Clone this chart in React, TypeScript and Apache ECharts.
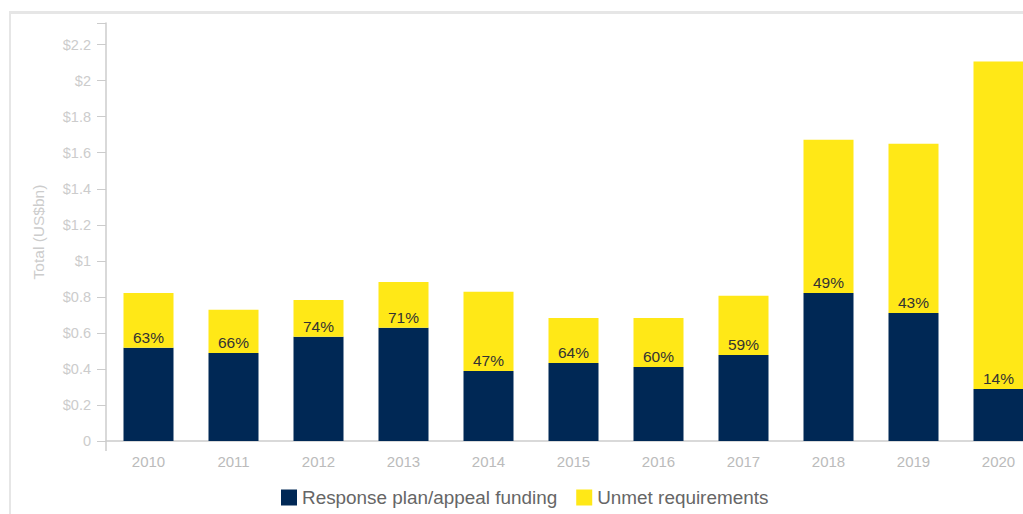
import React, { useEffect, useRef } from "react";
import * as echarts from "echarts";

const years = ["2010", "2011", "2012", "2013", "2014", "2015", "2016", "2017", "2018", "2019", "2020"];
const funded = [0.517, 0.489, 0.578, 0.628, 0.389, 0.433, 0.411, 0.478, 0.822, 0.711, 0.289];
const unmet = [0.305, 0.239, 0.205, 0.255, 0.439, 0.25, 0.272, 0.328, 0.85, 0.939, 1.817];
const fundedPct = [63, 66, 74, 71, 47, 64, 60, 59, 49, 43, 14];

export default function App() {
  const ref = useRef<HTMLDivElement>(null);
  useEffect(() => {
    if (!ref.current) return;
    const chart = echarts.init(ref.current, null, { renderer: "svg" });
    const font = "'Liberation Sans', Arial, sans-serif";
    chart.setOption({
      animation: false,
      textStyle: { fontFamily: font },
      grid: { left: 106, right: 0, top: 23, bottom: 73 },
      legend: {
        left: 276,
        bottom: 2,
        itemWidth: 16,
        itemHeight: 16,
        itemGap: 19,
        icon: "rect",
        textStyle: { fontSize: 18.9, color: "#666", fontFamily: font },
        data: ["Response plan/appeal funding", "Unmet requirements"],
      },
      xAxis: {
        type: "category",
        data: years,
        axisLine: { lineStyle: { color: "#ccc", width: 1.5 } },
        axisTick: { alignWithLabel: true, length: 8, lineStyle: { color: "#ccc" } },
        axisLabel: { color: "#bbb", fontSize: 15, margin: 13, fontFamily: font },
      },
      yAxis: {
        type: "value",
        min: 0,
        max: 2.32,
        interval: 0.2,
        name: "Total (US$bn)",
        nameLocation: "middle",
        nameGap: 60,
        nameTextStyle: { color: "#ccc", fontSize: 15.5, fontFamily: font },
        axisLine: { show: true, lineStyle: { color: "#ccc", width: 1.5 } },
        axisTick: { show: true, length: 9, lineStyle: { color: "#ccc" } },
        splitLine: { show: false },
        axisLabel: {
          color: "#ccc",
          fontSize: 14.5,
          margin: 15,
          fontFamily: font,
          formatter: (v: number) => {
            const r = Math.round(v * 10) / 10;
            if (Math.abs(v - r) > 1e-6 || Math.round(r * 10) % 2 !== 0) return "";
            if (r === 0) return "0";
            return "$" + String(r);
          },
        },
      },
      graphic: [
        { type: "rect", shape: { x: 10, y: 11, width: 1040, height: 3 }, style: { fill: "#e6e6e6" }, silent: true },
        { type: "rect", shape: { x: 9, y: 11, width: 2, height: 503 }, style: { fill: "#e6e6e6" }, silent: true },
        { type: "line", shape: { x1: 106, y1: 441, x2: 106, y2: 451 }, style: { stroke: "#ccc", lineWidth: 1.5 }, silent: true },
      ],
      series: [
        {
          name: "Response plan/appeal funding",
          type: "bar",
          stack: "total",
          barWidth: 50,
          data: funded,
          itemStyle: { color: "#002855" },
          label: {
            show: true,
            position: "top",
            distance: 2,
            fontSize: 15.5,
            color: "#333",
            fontFamily: font,
            formatter: (p: any) => fundedPct[p.dataIndex] + "%",
          },
        },
        {
          name: "Unmet requirements",
          type: "bar",
          stack: "total",
          barWidth: 50,
          data: unmet,
          itemStyle: { color: "#FFE817" },
        },
      ],
    });
    return () => chart.dispose();
  }, []);
  return (
    <div style={{ position: "absolute", left: 0, top: 0, width: 1023, height: 514, overflow: "hidden", background: "#fff" }}>
      <div ref={ref} style={{ width: 1041, height: 514 }} />
    </div>
  );
}
